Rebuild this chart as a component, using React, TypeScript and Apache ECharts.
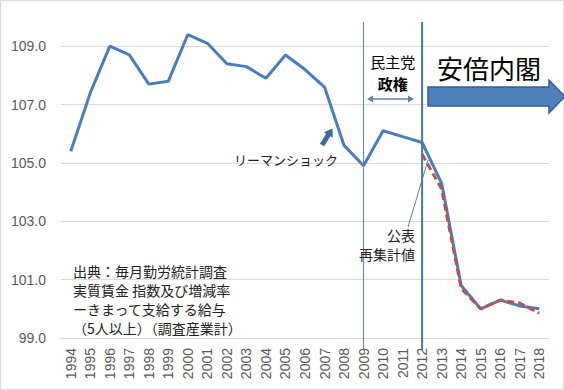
import React, { useEffect, useRef } from "react";
import * as echarts from "echarts";

const years = ["1994","1995","1996","1997","1998","1999","2000","2001","2002","2003","2004","2005","2006","2007","2008","2009","2010","2011","2012","2013","2014","2015","2016","2017","2018"];
const published = [105.4,107.4,109.0,108.7,107.7,107.8,109.4,109.1,108.4,108.3,107.9,108.7,108.2,107.6,105.6,104.9,106.1,105.9,105.7,104.3,100.8,100.0,100.3,100.1,100.0];
const recalculated = [null,null,null,null,null,null,null,null,null,null,null,null,null,null,null,null,null,null,105.3,104.1,100.7,100.0,100.3,100.2,99.85];
const markerYears = ["2009", "2012"];
const sourceLines = ["出典：毎月勤労統計調査", "実質賃金 指数及び増減率", "ーきまって支給する給与", "（5人以上）（調査産業計）"];

const JP = "'Noto Sans CJK JP', sans-serif";

export default function App() {
  const ref = useRef<HTMLDivElement>(null);
  useEffect(() => {
    document.body.style.margin = "0";
    const chart = echarts.init(ref.current!, null, { renderer: "svg" });
    chart.setOption({
      animation: false,
      backgroundColor: "#ffffff",
      grid: { left: 61, right: 15, top: 17, bottom: 52, containLabel: false },
      xAxis: {
        type: "category",
        data: years,
        boundaryGap: true,
        axisLine: { show: true, lineStyle: { color: "#d9d9d9" } },
        axisTick: { show: false },
        axisLabel: { rotate: 90, color: "#595959", fontSize: 14, fontFamily: "'Liberation Sans', sans-serif", margin: 10, interval: 0 },
      },
      yAxis: {
        type: "value",
        min: 99,
        max: 110,
        interval: 2,
        axisLine: { show: false },
        axisTick: { show: false },
        splitLine: { lineStyle: { color: "#d9d9d9" }, showMaxLine: false },
        axisLabel: {
          color: "#595959",
          fontSize: 14,
          fontFamily: "'Liberation Sans', sans-serif",
          margin: 15,
          showMaxLabel: false,
          formatter: (v: number) => (v === 110 ? "" : v.toFixed(1)),
        },
      },
      series: [
        {
          type: "line",
          data: published,
          symbol: "none",
          lineStyle: { color: "#4a7ebb", width: 3 },
          z: 3,
        },
        {
          type: "line",
          data: recalculated,
          symbol: "none",
          connectNulls: false,
          lineStyle: { color: "#c0504d", width: 3, type: [7, 4] },
          z: 4,
        },
      ],
    });

    const xs = markerYears.map((y) => chart.convertToPixel({ xAxisIndex: 0 }, y) as number);
    const x2009 = xs[0];
    const x2012 = xs[1];

    chart.setOption({
      graphic: [
        { type: "rect", shape: { x: 0.5, y: 0.5, width: 563, height: 389 }, style: { fill: "none", stroke: "#d9d9d9", lineWidth: 1 }, z: 1 },
        { type: "line", shape: { x1: x2009, y1: 22, x2: x2009, y2: 350 }, style: { stroke: "#5b7fa6", lineWidth: 1 }, z: 10 },
        { type: "line", shape: { x1: x2012, y1: 22, x2: x2012, y2: 350 }, style: { stroke: "#4d7599", lineWidth: 2 }, z: 10 },
        // 民主党政権
        { type: "text", x: (x2009 + x2012) / 2, y: 61, style: { text: "民主党", font: `15px ${JP}`, fill: "#000", textAlign: "center", textVerticalAlign: "middle" }, z: 10 },
        { type: "text", x: (x2009 + x2012) / 2, y: 83, style: { text: "政権", font: `bold 15px ${JP}`, fill: "#000", textAlign: "center", textVerticalAlign: "middle" }, z: 10 },
        { type: "line", shape: { x1: 370, y1: 99, x2: 411, y2: 99 }, style: { stroke: "#5b84ad", lineWidth: 1.5 }, z: 10 },
        { type: "polygon", shape: { points: [[367, 99], [373, 95.5], [373, 102.5]] }, style: { fill: "#5b84ad" }, z: 10 },
        { type: "polygon", shape: { points: [[414, 99], [408, 95.5], [408, 102.5]] }, style: { fill: "#5b84ad" }, z: 10 },
        // 安倍内閣
        { type: "text", x: 489, y: 67, style: { text: "安倍内閣", font: `26px ${JP}`, fill: "#000", textAlign: "center", textVerticalAlign: "middle" }, z: 10 },
        { type: "polygon", shape: { points: [[428, 87], [549, 87], [549, 80], [565, 96.5], [549, 113], [549, 106], [428, 106]] }, style: { fill: "#4f81bd", stroke: "#385d8a", lineWidth: 1.5 }, z: 10 },
        // リーマンショック
        { type: "text", x: 286, y: 159, style: { text: "リーマンショック", font: `13px ${JP}`, fill: "#222", textAlign: "center", textVerticalAlign: "middle" }, z: 10 },
        { type: "polygon", shape: { points: [[324.1, 146.3], [330.4, 136.3], [332.8, 137.8], [332.5, 128.5], [323.8, 132.2], [326.2, 133.7], [319.9, 143.7]] }, style: { fill: "#3d6a99" }, z: 10 },
        // 公表 再集計値
        { type: "line", shape: { x1: 408, y1: 227, x2: 428, y2: 160 }, style: { stroke: "#5b7fa6", lineWidth: 1 }, z: 10 },
        { type: "text", x: 415, y: 235, style: { text: "公表", font: `14px ${JP}`, fill: "#222", textAlign: "right", textVerticalAlign: "middle" }, z: 10 },
        { type: "text", x: 415, y: 254, style: { text: "再集計値", font: `14px ${JP}`, fill: "#222", textAlign: "right", textVerticalAlign: "middle" }, z: 10 },
        // source
        ...sourceLines.map((t, i) => ({
          type: "text",
          x: 73,
          y: 271 + i * 19,
          style: { text: t, font: `14px ${JP}`, fill: "#222", textAlign: "left", textVerticalAlign: "middle" },
          z: 10,
        })),
      ],
    });
    return () => chart.dispose();
  }, []);
  return <div ref={ref} style={{ position: "absolute", left: 0, top: 0, width: 564, height: 390 }} />;
}
